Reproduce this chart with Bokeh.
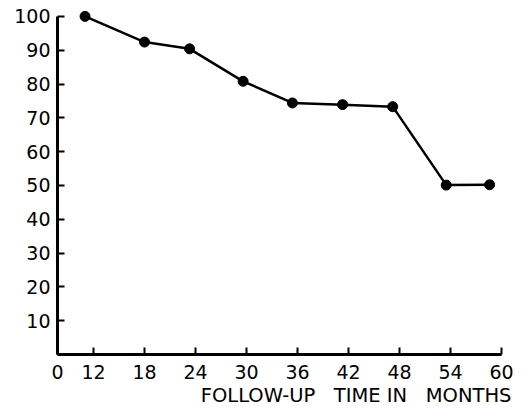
from bokeh.plotting import figure
from bokeh.models import Range1d, FixedTicker, Title
from bokeh.embed import file_html
from bokeh.resources import INLINE

# data
months = [11.0, 18.0, 23.3, 29.6, 35.4, 41.3, 47.2, 53.5, 58.6]
percent = [100.0, 92.4, 90.4, 80.8, 74.4, 73.9, 73.3, 50.1, 50.2]

x_ticks = [12, 18, 24, 30, 36, 42, 48, 54, 60]
y_ticks = [10, 20, 30, 40, 50, 60, 70, 80, 90, 100]
x_title = "FOLLOW-UP \u00a0 TIME IN \u00a0 MONTHS"

# the axis is broken between 0 and 12: "0" sits at the left end of the frame
x_origin = 7.76

p = figure(width=524, height=409, output_backend="svg", toolbar_location=None,
           x_range=Range1d(x_origin, 60), y_range=Range1d(0, 104.7),
           min_border_left=57, min_border_right=23, min_border_top=0,
           min_border_bottom=55)
p.outline_line_color = None
p.grid.visible = False
p.background_fill_color = "white"
p.border_fill_color = "white"

p.line(months, percent, line_color="black", line_width=2.5)
p.scatter(months, percent, size=10, fill_color="black", line_color="black")

font = "DejaVu Sans"
for ax in (p.xaxis[0], p.yaxis[0]):
    ax.axis_line_width = 3
    ax.axis_line_color = "black"
    ax.major_tick_line_width = 2
    ax.major_tick_line_color = "black"
    ax.major_tick_in = 7
    ax.major_tick_out = 0
    ax.minor_tick_line_color = None
    ax.major_label_text_font = font
    ax.major_label_text_font_size = "19px"
    ax.major_label_text_color = "black"

xa = p.xaxis[0]
xa.ticker = FixedTicker(ticks=[x_origin] + x_ticks)
xa.major_label_overrides = {x_origin: "0"}
xa.bounds = (x_origin, 60)
xa.major_label_standoff = 10

ya = p.yaxis[0]
ya.ticker = FixedTicker(ticks=y_ticks)
ya.bounds = (0, 100)
ya.major_label_standoff = 7

# axis title, right-aligned just past the end of the x axis
title = Title(text=x_title, align="right", offset=-10, standoff=0,
              text_font=font, text_font_size="19.5px", text_font_style="normal",
              text_color="black")
p.add_layout(title, "below")

open("out.html", "w").write(file_html(p, INLINE))
